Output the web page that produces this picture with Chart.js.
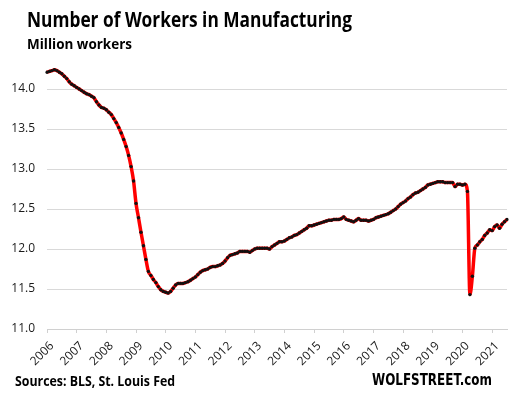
<!DOCTYPE html>
<html>
<head>
<meta charset="utf-8">
<script src="https://cdn.jsdelivr.net/npm/chart.js@4"></script>
<style>
  body { margin: 0; background: #fff; }
  #wrap { position: relative; width: 513px; height: 398px; overflow: hidden; }
  #chart { position: absolute; left: 0; top: 0; }
  .txt { position: absolute; white-space: nowrap; color: #000; font-weight: bold; transform-origin: 0 0; }
  #title { left: 27px; top: 5px; font: bold 21px "Open Sans", sans-serif; }
  #subtitle { left: 27px; top: 33px; font: bold 15px "Open Sans", sans-serif; }
  #sources { left: 15px; top: 371px; font: bold 14px "Open Sans", sans-serif; }
  #brand { left: 372px; top: 371px; font: bold 15px "DejaVu Sans", sans-serif; }
</style>
</head>
<body>
<div id="wrap">
  <canvas id="chart" width="513" height="398"></canvas>
  <div class="txt" id="title" data-w="325">Number of Workers in Manufacturing</div>
  <div class="txt" id="subtitle" data-w="105">Million workers</div>
  <div class="txt" id="sources" data-w="160">Sources: BLS, St. Louis Fed</div>
  <div class="txt" id="brand" data-w="120">WOLFSTREET.com</div>
</div>
<script>
// Monthly data, Jan 2006 - Jul 2021, million workers
const years = [2006, 2007, 2008, 2009, 2010, 2011, 2012, 2013, 2014, 2015, 2016, 2017, 2018, 2019, 2020, 2021];

const workers2006 = [14.21, 14.22, 14.23, 14.24, 14.23, 14.21, 14.19, 14.16, 14.13, 14.09, 14.06, 14.04];
const workers2007 = [14.02, 14.00, 13.98, 13.96, 13.94, 13.93, 13.91, 13.89, 13.84, 13.80, 13.77, 13.76];
const workers2008 = [13.74, 13.71, 13.68, 13.63, 13.58, 13.52, 13.45, 13.37, 13.28, 13.17, 13.03, 12.85];
const workers2009 = [12.57, 12.39, 12.21, 12.04, 11.87, 11.72, 11.67, 11.62, 11.58, 11.53, 11.49, 11.47];
const workers2010 = [11.46, 11.45, 11.47, 11.51, 11.55, 11.57, 11.57, 11.57, 11.58, 11.59, 11.61, 11.63];
const workers2011 = [11.65, 11.68, 11.71, 11.73, 11.74, 11.75, 11.77, 11.78, 11.78, 11.79, 11.80, 11.82];
const workers2012 = [11.85, 11.89, 11.92, 11.93, 11.94, 11.95, 11.97, 11.97, 11.97, 11.97, 11.96, 11.98];
const workers2013 = [12.00, 12.01, 12.01, 12.01, 12.01, 12.01, 12.00, 12.03, 12.05, 12.07, 12.09, 12.09];
const workers2014 = [12.10, 12.12, 12.14, 12.15, 12.17, 12.18, 12.20, 12.22, 12.24, 12.26, 12.29, 12.29];
const workers2015 = [12.30, 12.31, 12.32, 12.33, 12.34, 12.35, 12.36, 12.36, 12.37, 12.37, 12.37, 12.38];
const workers2016 = [12.40, 12.37, 12.36, 12.35, 12.34, 12.36, 12.38, 12.36, 12.36, 12.36, 12.35, 12.36];
const workers2017 = [12.37, 12.39, 12.40, 12.41, 12.42, 12.43, 12.44, 12.46, 12.48, 12.50, 12.53, 12.56];
const workers2018 = [12.58, 12.60, 12.63, 12.65, 12.68, 12.70, 12.71, 12.73, 12.75, 12.77, 12.80, 12.81];
const workers2019 = [12.82, 12.83, 12.84, 12.84, 12.84, 12.83, 12.83, 12.83, 12.83, 12.78, 12.81, 12.81];
const workers2020 = [12.80, 12.81, 12.72, 11.43, 11.66, 12.01, 12.05, 12.09, 12.12, 12.17, 12.20, 12.24];
const workers2021 = [12.23, 12.28, 12.30, 12.26, 12.31, 12.34, 12.37];

const yTicks = [11.0, 11.5, 12.0, 12.5, 13.0, 13.5, 14.0];

const yearlyValues = [workers2006, workers2007, workers2008, workers2009, workers2010, workers2011,
  workers2012, workers2013, workers2014, workers2015, workers2016, workers2017,
  workers2018, workers2019, workers2020, workers2021];

// build month labels + flat series
const labels = [];
const values = [];
years.forEach((yr, i) => {
  yearlyValues[i].forEach((v, m) => {
    labels.push(yr + "-" + String(m + 1).padStart(2, "0"));
    values.push(v);
  });
});

const axisFont = { family: "'Open Sans', sans-serif", size: 12 };

new Chart(document.getElementById("chart"), {
  type: "line",
  data: {
    labels: labels,
    datasets: [{
      data: values,
      borderColor: "#ff0000",
      borderWidth: 3.5,
      cubicInterpolationMode: "monotone",
      pointRadius: 1.7,
      pointBackgroundColor: "#111",
      pointBorderWidth: 0,
      pointHoverRadius: 0
    }]
  },
  options: {
    responsive: false,
    animation: false,
    layout: { padding: { top: 49, right: 6, bottom: 0, left: 0 } },
    plugins: { legend: { display: false }, tooltip: { enabled: false } },
    scales: {
      x: {
        type: "category",
        offset: false,
        grid: { display: true, drawOnChartArea: false, drawTicks: true, tickLength: 4, color: "#d0d0d0" },
        border: { color: "#d0d0d0" },
        ticks: {
          autoSkip: false,
          maxRotation: 45,
          minRotation: 45,
          padding: 6,
          labelOffset: 5,
          color: "#1a1a1a",
          font: axisFont,
          callback: (val, i) => labels[i].endsWith("-01") ? labels[i].slice(0, 4) : null
        },
        afterFit: s => { s.height = 69; }
      },
      y: {
        min: 11,
        max: 14.5,
        grid: { color: "#d9d9d9", drawTicks: false },
        border: { display: false },
        afterBuildTicks: s => { s.ticks = yTicks.map(v => ({ value: v })); },
        ticks: {
          padding: 12,
          color: "#1a1a1a",
          font: axisFont,
          callback: v => v.toFixed(1)
        },
        afterFit: s => { s.width = 47; }
      }
    }
  }
});

// squeeze html texts to reference widths
document.querySelectorAll(".txt").forEach(el => {
  const w = el.getBoundingClientRect().width;
  el.style.transform = "scaleX(" + (el.dataset.w / w) + ")";
});
</script>
</body>
</html>
